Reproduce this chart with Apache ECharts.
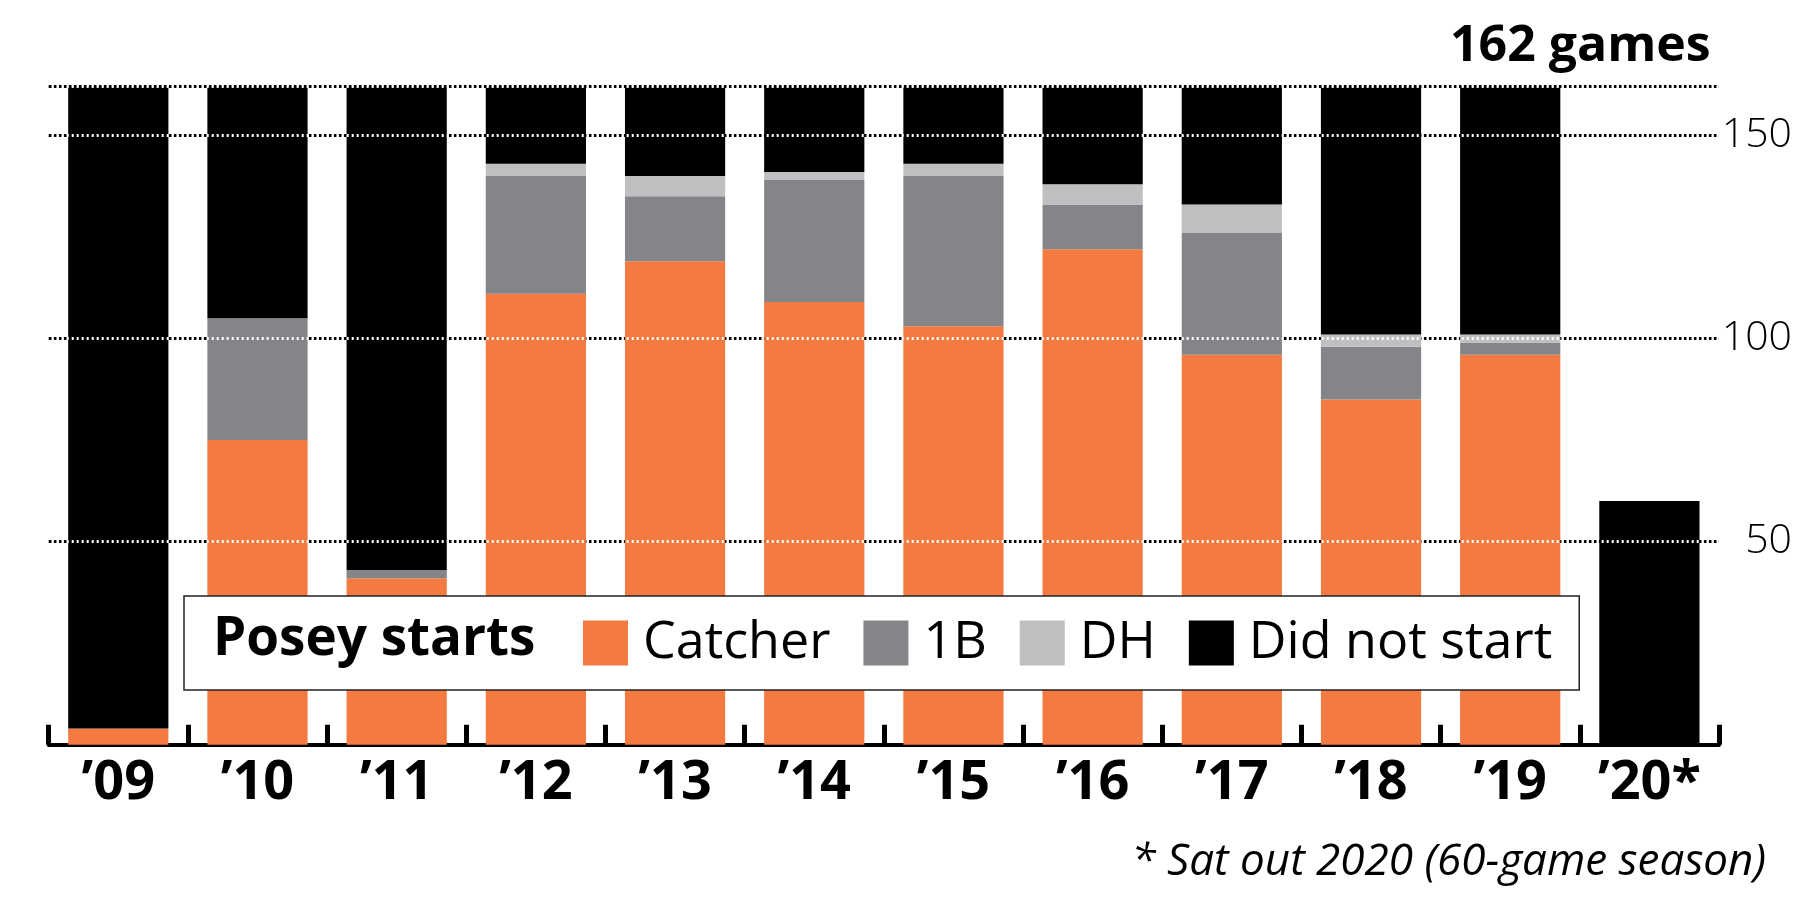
<!DOCTYPE html>
<html>
<head>
<meta charset="utf-8">
<script src="https://cdn.jsdelivr.net/npm/echarts@6/dist/echarts.min.js"></script>
<style>
  html, body { margin: 0; padding: 0; background: #fff; }
  #chart { width: 1800px; height: 900px; }
</style>
</head>
<body>
<div id="chart"></div>
<script>
const seasons = ["\u201909", "\u201910", "\u201911", "\u201912", "\u201913", "\u201914", "\u201915", "\u201916", "\u201917", "\u201918", "\u201919", "\u201920*"];
const catcher = [4, 75, 41, 111, 119, 109, 103, 122, 96, 85, 96, 0];
const firstBase = [0, 30, 2, 29, 16, 30, 37, 11, 30, 13, 3, 0];
const dh = [0, 0, 0, 3, 5, 2, 3, 5, 7, 3, 2, 0];
const didNotStart = [158, 57, 119, 19, 22, 21, 19, 24, 29, 61, 61, 60];
const gridValues = [50, 100, 150, 162];

const FONT = "'Open Sans', 'Noto Sans', sans-serif";

var myChart = echarts.init(document.getElementById("chart"));

function barSeries(name, data, color) {
  return {
    name: name,
    type: "bar",
    stack: "starts",
    barWidth: "72%",
    data: data,
    itemStyle: { color: color },
  };
}

var series = [
  barSeries("Catcher", catcher, "#F37A40"),
  barSeries("1B", firstBase, "#848589"),
  barSeries("DH", dh, "#BEBFC1"),
  barSeries("Did not start", didNotStart, "#000000"),
];

// white dots over the bars, filling the gaps of the black dotted grid lines
series[3].markLine = {
  silent: true,
  symbol: "none",
  label: { show: false },
  lineStyle: { color: "#fff", width: 3, type: [2, 3], dashOffset: 2, opacity: 1 },
  data: gridValues.map((v) => ({ yAxis: v })),
};

var option = {
  animation: false,
  backgroundColor: "#fff",
  grid: { left: 48.7, right: 81, top: 86.7, bottom: 155.3 },
  legend: {
    data: ["Catcher", "1B", "DH", "Did not start"],
    left: 184,
    top: 596,
    orient: "horizontal",
    icon: "rect",
    itemWidth: 45,
    itemHeight: 45,
    itemGap: 33,
    padding: [21, 27, 21, 399],
    backgroundColor: "#fff",
    borderColor: "#222",
    borderWidth: 1.5,
    selectedMode: false,
    textStyle: {
      fontFamily: FONT,
      fontSize: 52,
      lineHeight: 45,
      color: "#000",
      padding: [0, 0, 0, 10],
    },
  },
  xAxis: {
    type: "category",
    data: seasons,
    axisLine: { show: true, lineStyle: { color: "#000", width: 4 } },
    axisTick: {
      show: true,
      inside: true,
      alignWithLabel: false,
      interval: 0,
      length: 20,
      lineStyle: { color: "#000", width: 5 },
    },
    axisLabel: {
      interval: 0,
      margin: 12,
      color: "#000",
      fontFamily: FONT,
      fontWeight: "bold",
      fontSize: 54,
    },
  },
  yAxis: {
    type: "value",
    position: "right",
    min: 0,
    max: 162,
    interval: 50,
    axisLine: { show: false },
    axisTick: { show: false },
    splitLine: { lineStyle: { color: "#000", width: 3, type: [3, 2] } },
    axisLabel: {
      margin: 73,
      align: "right",
      color: "#000",
      fontFamily: FONT,
      fontWeight: 300,
      fontSize: 41,
      formatter: (v) => (v === 0 || v === 162 ? "" : String(v)),
    },
  },
  graphic: [
    {
      type: "text",
      left: 1450,
      top: 22,
      style: {
        text: "162 games",
        fontFamily: FONT,
        fontWeight: "bold",
        fontSize: 50,
        fill: "#000",
      },
    },
    {
      type: "text",
      x: 213,
      y: 640,
      z: 100,
      style: {
        text: "Posey starts",
        fontFamily: FONT,
        fontWeight: "bold",
        fontSize: 53,
        fill: "#000",
        verticalAlign: "middle",
      },
    },
    {
      type: "text",
      x: 1766,
      y: 862,
      style: {
        text: "* Sat out 2020 (60-game season)",
        fontFamily: FONT,
        fontStyle: "italic",
        fontSize: 44,
        fill: "#000",
        align: "right",
        verticalAlign: "middle",
      },
    },
  ],
  series: series,
};

myChart.setOption(option);
</script>
</body>
</html>
